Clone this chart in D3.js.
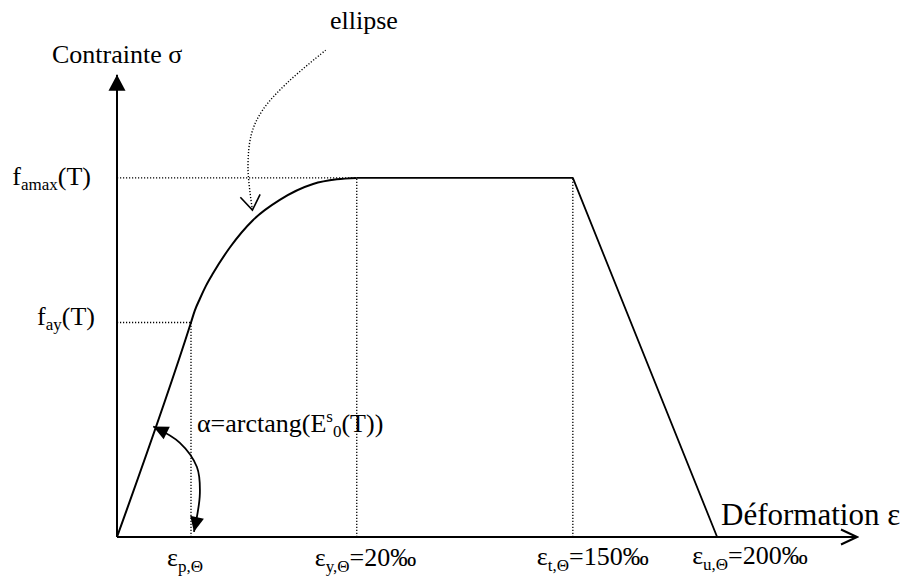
<!DOCTYPE html>
<html>
<head>
<meta charset="utf-8">
<script src="https://cdn.jsdelivr.net/npm/d3@7"></script>
<style>
  html, body { margin: 0; padding: 0; background: #fff; }
</style>
</head>
<body>
<svg id="chart" width="911" height="581"></svg>
<script>
// schematic diagram, chart units (not to scale)
const strainKeys = ["p", "y", "t", "u"];
const strainValues = [10, 32.4, 61.6, 81.1];
const strainSubs = ["p,Θ", "y,Θ", "t,Θ", "u,Θ"];
const strainTails = ["", "=20‰", "=150‰", "=200‰"];

const stressKeys = ["ay", "amax"];
const stressValues = [46, 77];

// origin + elliptic branch
const lawX = [0, 10, 10.5, 11.2, 12, 13, 15.3, 18.4, 22, 26.5, 29.7, 32.4];
const lawY = [0, 46, 48.5, 51.1, 53.8, 56.6, 62.2, 68, 72.3, 75.7, 76.7, 77];

// dotted pointer from the "ellipse" note
const noteX = [28.2, 23.0, 19.7, 18.2, 17.7, 18.3];
const noteY = [104.4, 97.4, 91.6, 86.6, 79.3, 70.1];

// angle arc for alpha
const arcX = [4.9, 8.5, 10.8, 11.2, 10.4];
const arcY = [23.7, 20.2, 15.0, 9.4, 1.1];

const serif = '"Liberation Serif", "Times New Roman", Times, serif';
const svg = d3.select("#chart").attr("font-family", serif);
const x = d3.scaleLinear().domain([0, 100]).range([117, 857]);
const y = d3.scaleLinear().domain([0, 100]).range([537, 70.7]);

const defs = svg.append("defs");
function marker(id, d, len, half, filled, sw) {
    defs.append("marker")
        .attr("id", id)
        .attr("viewBox", `${-len - 2} ${-half - 2} ${len + 4} ${2 * half + 4}`)
        .attr("refX", 0).attr("refY", 0)
        .attr("markerUnits", "userSpaceOnUse")
        .attr("markerWidth", len + 4).attr("markerHeight", 2 * half + 4)
        .attr("orient", "auto-start-reverse")
        .append("path")
        .attr("d", d)
        .attr("fill", filled ? "#000" : "none")
        .attr("stroke", filled ? "none" : "#000")
        .attr("stroke-width", sw || 0)
        .attr("stroke-dasharray", "none");
}
marker("axisTri", "M0,0L-16,-8.5L-16,8.5Z", 16, 8.5, true);
marker("axisVee", "M-16,-7.5L0,0L-16,7.5", 16, 7.5, false, 2);
marker("arcTri", "M0,0L-15,-7L-15,7Z", 15, 7, true);
marker("noteVee", "M-14.5,-10L0,0L-14.5,10", 14.5, 10, false, 1.6);

const dotted = "1.2,1.8";

// guide lines
stressValues.forEach((v, i) => {
    const xEnd = i === 0 ? strainValues[0] : strainValues[1];
    svg.append("line")
        .attr("x1", x(0)).attr("x2", x(xEnd))
        .attr("y1", y(v)).attr("y2", y(v))
        .attr("stroke", "#000").attr("stroke-width", 1.3)
        .attr("stroke-dasharray", dotted);
});
strainValues.slice(0, 3).forEach((v, i) => {
    const top = i === 0 ? stressValues[0] : stressValues[1];
    svg.append("line")
        .attr("x1", x(v)).attr("x2", x(v))
        .attr("y1", y(0)).attr("y2", y(top))
        .attr("stroke", "#000").attr("stroke-width", 1.3)
        .attr("stroke-dasharray", dotted);
});

// axes
svg.append("line")
    .attr("x1", x(0)).attr("x2", x(0))
    .attr("y1", y(0)).attr("y2", y(100) + 4)
    .attr("stroke", "#000").attr("stroke-width", 2)
    .attr("marker-end", "url(#axisTri)");
svg.append("line")
    .attr("x1", x(0)).attr("x2", x(100))
    .attr("y1", y(0)).attr("y2", y(0))
    .attr("stroke", "#000").attr("stroke-width", 2)
    .attr("marker-end", "url(#axisVee)");

// stress-strain law
const lin = d3.line().x(d => x(d[0])).y(d => y(d[1]));
const curve = d3.line().x(d => x(d[0])).y(d => y(d[1])).curve(d3.curveMonotoneX);

svg.append("path")
    .attr("d", curve(lawX.map((v, i) => [v, lawY[i]])))
    .attr("fill", "none").attr("stroke", "#000").attr("stroke-width", 2);
svg.append("path")
    .attr("d", lin([[strainValues[1], stressValues[1]], [strainValues[2], stressValues[1]], [strainValues[3], 0]]))
    .attr("fill", "none").attr("stroke", "#000").attr("stroke-width", 1.8)
    .attr("stroke-linejoin", "round");

// annotations
svg.append("path")
    .attr("d", d3.line().x(d => x(d[0])).y(d => y(d[1])).curve(d3.curveCatmullRom)(noteX.map((v, i) => [v, noteY[i]])))
    .attr("fill", "none").attr("stroke", "#000").attr("stroke-width", 1.4)
    .attr("stroke-dasharray", dotted)
    .attr("marker-end", "url(#noteVee)");

svg.append("path")
    .attr("d", d3.line().x(d => x(d[0])).y(d => y(d[1])).curve(d3.curveCatmullRom)(arcX.map((v, i) => [v, arcY[i]])))
    .attr("fill", "none").attr("stroke", "#000").attr("stroke-width", 1.8)
    .attr("marker-start", "url(#arcTri)")
    .attr("marker-end", "url(#arcTri)");

// text
const big = 26, small = 17;

svg.append("text").attr("x", 52).attr("y", 63).attr("font-size", big).text("Contrainte σ");
svg.append("text").attr("x", 330).attr("y", 29).attr("font-size", big).text("ellipse");
svg.append("text").attr("x", 721).attr("y", 525).attr("font-size", 31).text("Déformation ε");

// stress labels, right aligned next to the axis
const stressShift = {ay: [22, 2.5], amax: [26, 7.5]};
stressKeys.forEach((k, i) => {
    const t = svg.append("text")
        .attr("x", x(0) - stressShift[k][0])
        .attr("y", y(stressValues[i]) + stressShift[k][1])
        .attr("font-size", big)
        .attr("text-anchor", "end");
    t.append("tspan").text("f");
    t.append("tspan").attr("font-size", small).attr("dy", 5).text(k);
    t.append("tspan").attr("dy", -5).text("(T)");
});

// strain labels under the axis
const strainShift = {p: [-24, 29], y: [-42, 29], t: [-36, 28], u: [-25, 27]};
strainKeys.forEach((k, i) => {
    const t = svg.append("text")
        .attr("x", x(strainValues[i]) + strainShift[k][0])
        .attr("y", y(0) + strainShift[k][1])
        .attr("font-size", big);
    t.append("tspan").text("ε");
    t.append("tspan").attr("font-size", small).attr("dy", 6).text(strainSubs[i]);
    if (strainTails[i]) t.append("tspan").attr("dy", -6).text(strainTails[i]);
});

// alpha = arctang(E^s_0(T))
const a = svg.append("text").attr("x", 197).attr("y", 432).attr("font-size", big);
a.append("tspan").text("α=arctang(E");
a.append("tspan").attr("font-size", small).attr("dy", -10).text("s");
a.append("tspan").attr("font-size", small).attr("dy", 15).text("0");
a.append("tspan").attr("dy", -5).text("(T))");
</script>
</body>
</html>
